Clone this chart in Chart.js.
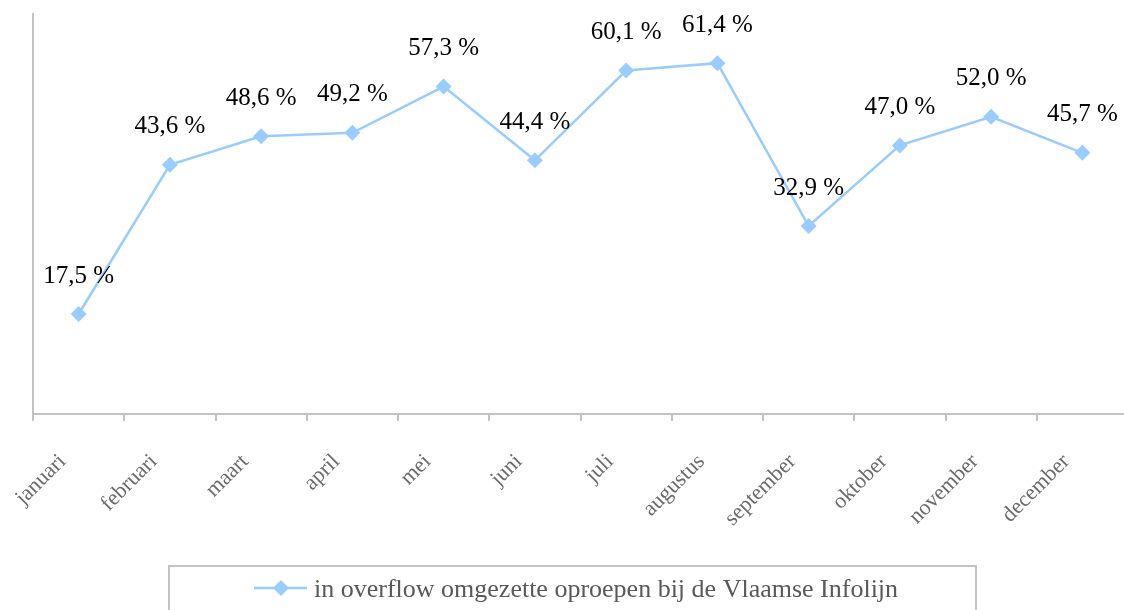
<!DOCTYPE html>
<html>
<head>
<meta charset="utf-8">
<script src="https://cdn.jsdelivr.net/npm/chart.js@4/dist/chart.umd.min.js"></script>
<style>
  html, body { margin: 0; padding: 0; overflow: hidden; background: #fff; }
  canvas { display: block; }
</style>
</head>
<body>
<canvas id="c" width="1136" height="610"></canvas>
<script>
const months = ['januari','februari','maart','april','mei','juni','juli','augustus','september','oktober','november','december'];
const overflowPct = [17.5, 43.6, 48.6, 49.2, 57.3, 44.4, 60.1, 61.4, 32.9, 47.0, 52.0, 45.7];
const seriesLabel = 'in overflow omgezette oproepen bij de Vlaamse Infolijn';
const yMin = 0, yMax = 70;

const SERIF = '"Liberation Serif", "DejaVu Serif", serif';
const LINE = '#99ccff';

const valueLabels = {
  id: 'valueLabels',
  afterDatasetsDraw(chart) {
    const ctx = chart.ctx;
    const meta = chart.getDatasetMeta(0);
    ctx.save();
    ctx.font = '25px ' + SERIF;
    ctx.fillStyle = '#000';
    ctx.textAlign = 'center';
    ctx.textBaseline = 'middle';
    meta.data.forEach((pt, i) => {
      const v = chart.data.datasets[0].data[i];
      ctx.fillText(v.toFixed(1).replace('.', ',') + ' %', pt.x, pt.y - 38);
    });
    ctx.restore();
  }
};

const boxLegend = {
  id: 'boxLegend',
  afterDraw(chart) {
    const ctx = chart.ctx;
    ctx.save();
    ctx.strokeStyle = '#c3c3c3';
    ctx.lineWidth = 2;
    ctx.strokeRect(169, 566, 807, 60);
    ctx.strokeStyle = LINE;
    ctx.lineWidth = 2.5;
    ctx.beginPath();
    ctx.moveTo(254, 588);
    ctx.lineTo(307, 588);
    ctx.stroke();
    ctx.fillStyle = LINE;
    Chart.helpers.drawPoint(ctx, {pointStyle: 'rectRot', radius: 8, rotation: 0, borderWidth: 0}, 281, 588);
    ctx.font = '26px ' + SERIF;
    ctx.fillStyle = '#595959';
    ctx.textAlign = 'left';
    ctx.textBaseline = 'alphabetic';
    ctx.fillText(chart.data.datasets[0].label, 314, 597);
    ctx.restore();
  }
};

new Chart(document.getElementById('c'), {
  type: 'line',
  data: {
    labels: months,
    datasets: [{
      label: seriesLabel,
      data: overflowPct,
      borderColor: LINE,
      backgroundColor: LINE,
      borderWidth: 2.5,
      pointStyle: 'rectRot',
      pointRadius: 8,
      pointBorderWidth: 0,
      pointBackgroundColor: LINE,
      tension: 0
    }]
  },
  options: {
    responsive: false,
    animation: false,
    layout: { padding: { left: 33, top: 14, right: 3, bottom: 0 } },
    plugins: { legend: { display: false }, tooltip: { enabled: false } },
    scales: {
      x: {
        offset: true,
        grid: { display: true, drawOnChartArea: false, drawTicks: true, tickLength: 7, color: '#c3c3c3', lineWidth: 2, offset: true },
        border: { display: true, color: '#c3c3c3', width: 2 },
        ticks: {
          autoSkip: false,
          maxRotation: 45, minRotation: 45,
          color: '#6b6b6b',
          font: { family: SERIF, size: 22 },
          padding: 28,
          labelOffset: -16
        },
        afterFit(scale) { scale.height = 196; scale.paddingLeft = 0; scale.paddingRight = 0; }
      },
      y: {
        min: yMin, max: yMax,
        grid: { display: false, drawTicks: false },
        border: { display: true, color: '#c3c3c3', width: 2 },
        ticks: { display: false },
        afterFit(scale) { scale.width = 0; }
      }
    }
  },
  plugins: [valueLabels, boxLegend]
});
</script>
</body>
</html>
